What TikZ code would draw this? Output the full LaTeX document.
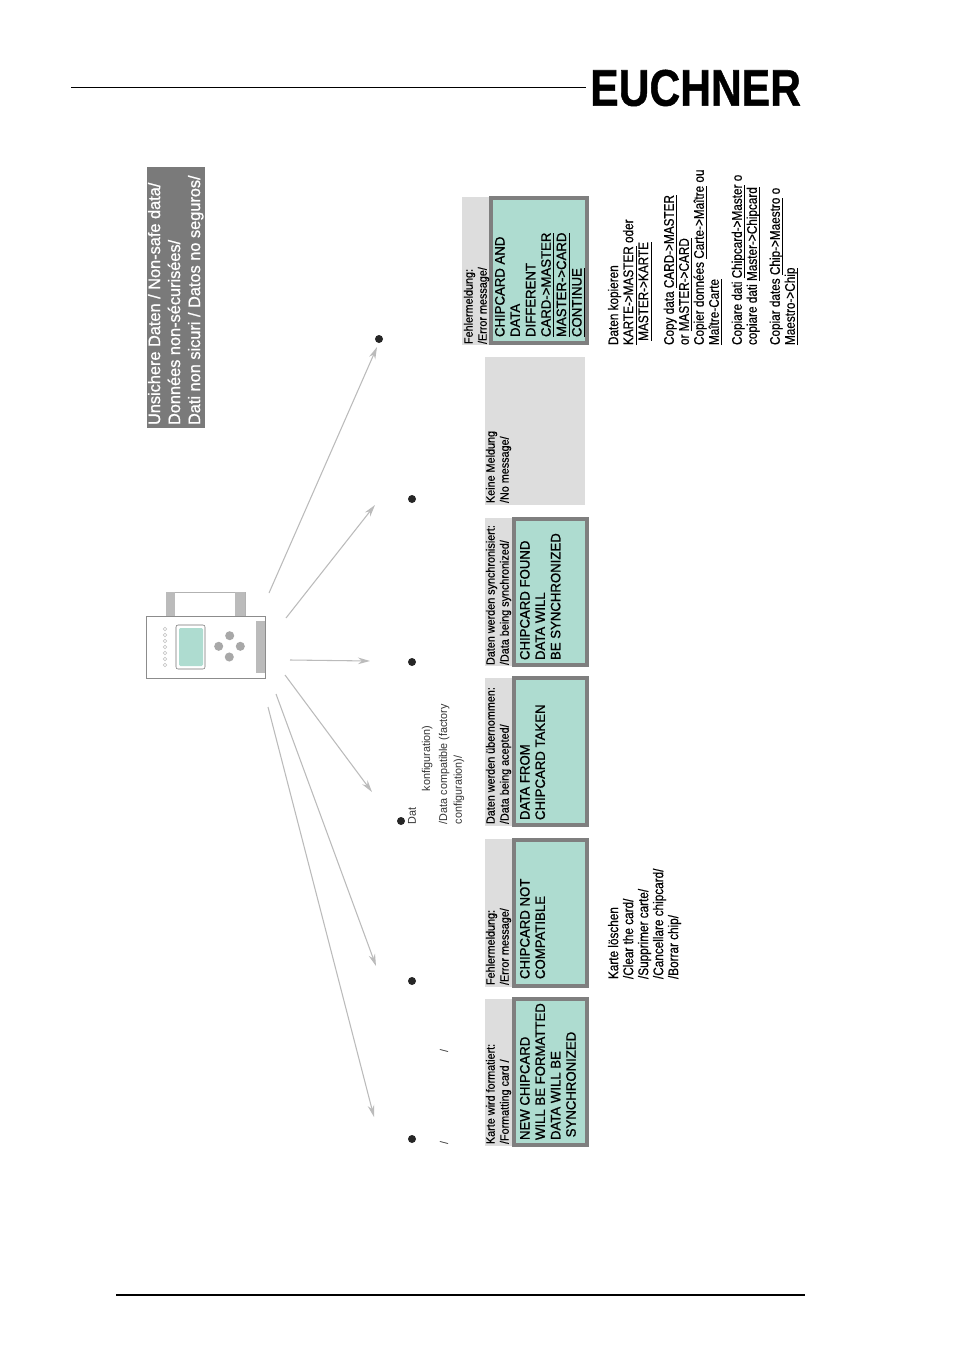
\documentclass[tikz,border=0pt]{standalone}
\usepackage{fontspec}
\usepackage{graphicx}
\setmainfont{Liberation Sans}
\newfontfamily\headfont[FakeStretch=0.9,FakeBold=0.4]{Liberation Sans}
\newfontfamily\sidefont[FakeStretch=0.84,FakeBold=0.6]{Liberation Sans}
\newfontfamily\boxfont[FakeStretch=0.97,FakeBold=1]{Liberation Sans}
\newfontfamily\smallfont[FakeStretch=0.95]{Liberation Sans}
\newfontfamily\bannerfont[FakeStretch=0.98,FakeBold=0.9]{Liberation Sans}
\newfontfamily\logofont[FakeBold=1]{Liberation Sans Bold}
\newsavebox{\ulbox}
\newcommand{\ul}[1]{\sbox{\ulbox}{#1}\rlap{\raisebox{-2.5pt}[0pt][0pt]{\rule{\wd\ulbox}{0.7pt}}}\usebox{\ulbox}}
\definecolor{teal1}{HTML}{AEDCD0}
\definecolor{frameg}{HTML}{7F7F7F}
\definecolor{headg}{HTML}{DDDDDD}
\definecolor{darkg}{HTML}{7A7A7A}
\definecolor{arrowg}{HTML}{BBBBBB}
\definecolor{devg}{HTML}{BBBBBB}
\usetikzlibrary{arrows.meta}
\tikzset{
 x=0.75pt,y=-0.75pt,
 rot/.style={rotate=90,anchor=north west,align=left,inner sep=0pt,outer sep=0pt},
 headtext/.style={rot,font=\headfont\fontsize{9}{10.5}\selectfont},
 boxtext/.style={rot,font=\boxfont\fontsize{10.2}{11.55}\selectfont},
 sidetext/.style={rot,font=\sidefont\fontsize{10.5}{11.25}\selectfont},
 smalltext/.style={rot,font=\smallfont\fontsize{8.5}{11}\selectfont,text=black!80},
 dot/.style={circle,fill=black!85,inner sep=0pt,minimum size=6pt},
 tealbox/.style={draw=frameg,line width=3pt,fill=teal1},
 link/.style={draw=arrowg,line width=0.8pt,-{Stealth[length=9pt,width=5pt]}},
}
\begin{document}
\begin{tikzpicture}
\useasboundingbox (0,0) rectangle (954,1352);
% rules and logo
\coordinate (ruleA) at (71,87); \coordinate (ruleB) at (586,87);
\draw[line width=0.7pt] (ruleA) -- (ruleB);
\coordinate (ruleC) at (116,1295); \coordinate (ruleD) at (805,1295);
\draw[line width=1.2pt] (ruleC) -- (ruleD);
\node[anchor=south west,inner sep=0pt] (logo) at (590,106.5) {\resizebox{158pt}{27pt}{\logofont EUCHNER}};
% dark banner
\fill[darkg] (147,167) rectangle (205,428);
\node[rot,text=white,font=\bannerfont\fontsize{12.5}{15}\selectfont] (banner) at (148,425) {Unsichere Daten / Non-safe data/\\Donn\'ees non-s\'ecuris\'ees/\\Dati non sicuri / Datos no seguros/};
% device
\draw[draw=black!45,line width=0.6pt,fill=white] (146,616) rectangle (265,678);
\fill[devg] (256,621) rectangle (265,673);
\draw[draw=black!30,line width=0.6pt] (166,616) -- (166,592) -- (245,592) -- (245,616);
\fill[devg] (166,592) rectangle (175,616);
\fill[devg] (235,592) rectangle (245,616);
\draw[draw=black!55,line width=0.4pt,rounded corners=1.5pt] (176,625) rectangle (205,669);
\fill[teal1,rounded corners=1pt] (179,628) rectangle (203,666);
\foreach \px/\py in {229.7/635.7,218.7/646.3,240.3/646.3,229.3/657}{\fill[devg!90!black] (\px,\py) circle[radius=3.4pt];}
\foreach \py in {629,635,641,647,653,659,665}{\draw[black!25,line width=0.3pt] (165,\py) circle[radius=1.3pt];}
% connector ends
\coordinate (s1) at (269,593); \coordinate (t1) at (377,347);
\coordinate (s2) at (286,618); \coordinate (t2) at (375,505);
\coordinate (s3) at (290,660); \coordinate (t3) at (370,661);
\coordinate (s4) at (285,675); \coordinate (t4) at (372,792);
\coordinate (s5) at (276,694); \coordinate (t5) at (376,966);
\coordinate (s6) at (268,707); \coordinate (t6) at (374,1117);
\foreach \i in {1,...,6}{\draw[link] (s\i) -- (t\i);}
% bullets
\node[dot] (b1) at (379,339) {};
\node[dot] (b2) at (412,499) {};
\node[dot] (b3) at (412,662) {};
\node[dot] (b4) at (401,821) {};
\node[dot] (b5) at (412,981) {};
\node[dot] (b6) at (412,1139) {};
% fragments beside bullets
\node[smalltext] (f1) at (408,824) {Dat};
\node[smalltext] (f2) at (422,791) {konfiguration)};
\node[smalltext] (f3) at (439,824) {/Data compatible (factory\\configuration)/};
\node[smalltext] (f4) at (440,1052) {/};
\node[smalltext] (f5) at (440,1144) {/};
% panel 1
\fill[headg] (462,197) rectangle (489,345);
\draw[tealbox] (491,198) rectangle (587,343);
\node[headtext] (h1) at (464,344) {Fehlermeldung:\\/Error message/};
\node[boxtext] (x1) at (495,337) {CHIPCARD AND\\DATA\\DIFFERENT\\\ul{CARD->MASTER}\\\ul{MASTER->CARD}\\\ul{CONTINUE}};
% panel 2
\fill[headg] (485,357) rectangle (585,505);
\node[headtext] (h2) at (486,503) {Keine Meldung\\/No message/};
% panel 3
\fill[headg] (485,518) rectangle (512,666);
\draw[tealbox] (514,519) rectangle (587,665);
\node[headtext] (h3) at (486,665) {Daten werden synchronisiert:\\/Data being synchronized/};
\node[boxtext] (x3) at (520,660) {CHIPCARD FOUND\\DATA WILL\\BE SYNCHRONIZED};
% panel 4
\fill[headg] (485,678) rectangle (512,826);
\draw[tealbox] (514,678) rectangle (587,825);
\node[headtext] (h4) at (486,824) {Daten werden \"ubernommen:\\/Data being acepted/};
\node[boxtext] (x4) at (520,820) {DATA FROM\\CHIPCARD TAKEN};
% panel 5
\fill[headg] (485,839) rectangle (512,987);
\draw[tealbox] (514,840) rectangle (587,986);
\node[headtext] (h5) at (486,985) {Fehlermeldung:\\/Error message/};
\node[boxtext] (x5) at (520,979) {CHIPCARD NOT\\COMPATIBLE};
% panel 6
\fill[headg] (485,999) rectangle (512,1146);
\draw[tealbox] (514,999) rectangle (587,1145);
\node[headtext] (h6) at (486,1144) {Karte wird formatiert:\\/Formatting card /};
\node[boxtext] (x6) at (520,1140) {NEW CHIPCARD\\WILL BE FORMATTED\\DATA WILL BE\\\hspace*{.2em}SYNCHRONIZED};
% side notes
\node[sidetext] (n1) at (608,345) {Daten kopieren\\\ul{KARTE->MASTER} oder\\\hspace*{.3em}\ul{MASTER->KARTE}\\[8pt]Copy data \ul{CARD->MASTER}\\or \ul{MASTER->CARD}\\Copier donn\'ees \ul{Carte->Ma\^itre} ou\\\ul{Ma\^itre-Carte}\\[6pt]Copiare dati \ul{Chipcard->Master} o\\copiare dati \ul{Master->Chipcard}\\[6pt]Copiar dates \ul{Chip->Maestro} o\\\ul{Maestro->Chip}};
\node[sidetext] (n2) at (608,979) {Karte l\"oschen\\/Clear the card/\\/Supprimer carte/\\/Cancellare chipcard/\\/Borrar chip/};
\end{tikzpicture}
\end{document}
